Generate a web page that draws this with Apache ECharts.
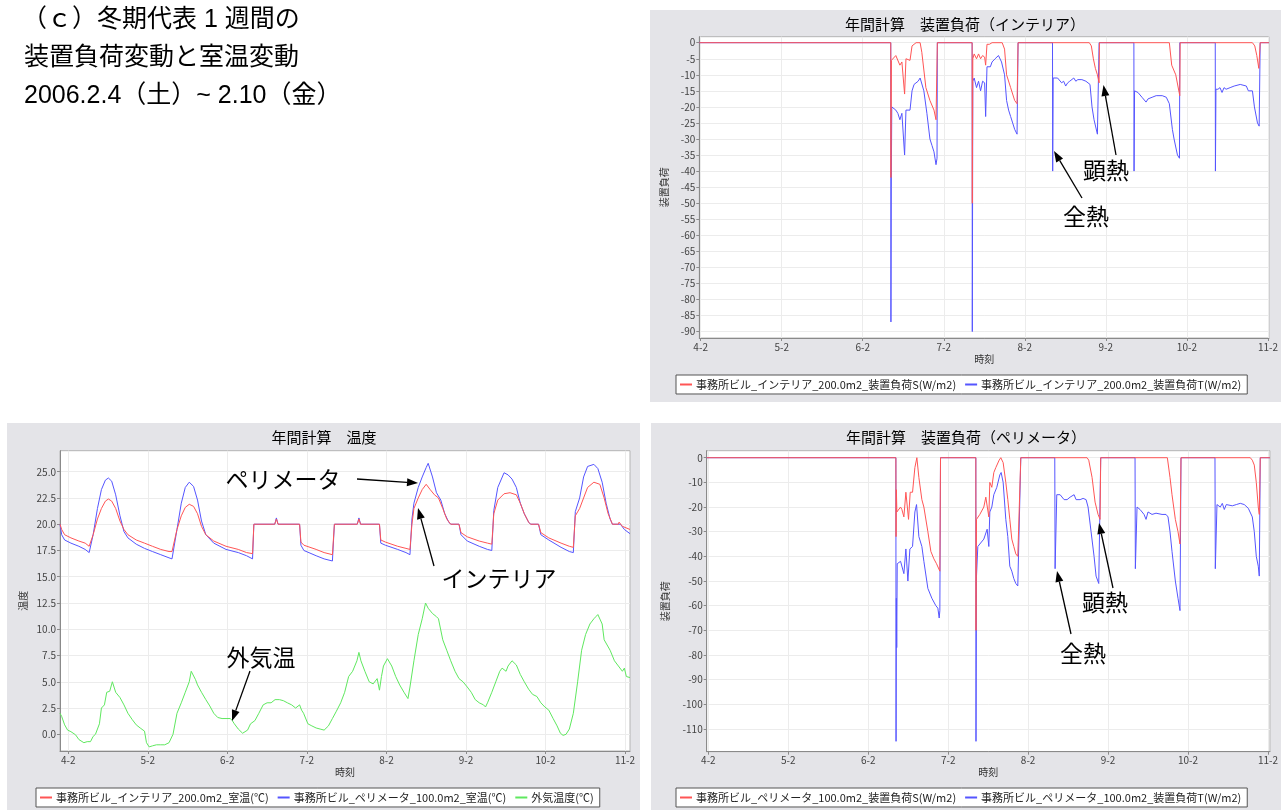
<!DOCTYPE html>
<html>
<head>
<meta charset="utf-8">
<title>冬期代表1週間 装置負荷変動と室温変動</title>
<script src="https://cdn.jsdelivr.net/npm/echarts@6/dist/echarts.min.js"></script>
<style>
  html, body { margin: 0; padding: 0; background: #ffffff; }
  #main { width: 1281px; height: 810px; }
</style>
</head>
<body>
<div id="main"></div>
<script>
// ---------- axis ticks (hours from 2006-02-04 00:00) ----------
const dayTickValues = [0, 24, 48, 72, 96, 120, 144, 168];
const dayTickLabels = ['4-2', '5-2', '6-2', '7-2', '8-2', '9-2', '10-2', '11-2'];
const interiorLoadTicks = [0, -5, -10, -15, -20, -25, -30, -35, -40, -45, -50, -55, -60, -65, -70, -75, -80, -85, -90];
const perimeterLoadTicks = [0, -10, -20, -30, -40, -50, -60, -70, -80, -90, -100, -110];
const temperatureTicks = [0, 2.5, 5, 7.5, 10, 12.5, 15, 17.5, 20, 22.5, 25];

// ---------- series names ----------
const nameInteriorS = '事務所ビル_インテリア_200.0m2_装置負荷S(W/m2)';
const nameInteriorT = '事務所ビル_インテリア_200.0m2_装置負荷T(W/m2)';
const namePerimeterS = '事務所ビル_ペリメータ_100.0m2_装置負荷S(W/m2)';
const namePerimeterT = '事務所ビル_ペリメータ_100.0m2_装置負荷T(W/m2)';
const nameInteriorTemp = '事務所ビル_インテリア_200.0m2_室温(℃)';
const namePerimeterTemp = '事務所ビル_ペリメータ_100.0m2_室温(℃)';
const nameOutdoorTemp = '外気温度(℃)';

// ---------- interior zone load [hour, W/m2] ----------
const interiorLoadS = [
  [-0.4, 0], [56.3, 0], [56.35, -42], [56.5, -5.5], [57.8, -4], [59, -7], [59.6, -6], [60.4, -16], [60.8, -5],
  [62, -5.5], [62.6, -1], [63.8, 0], [65, 0], [65.5, -3], [66.7, -14], [67.9, -18], [69.1, -21], [69.7, -24],
  [70.0, -24], [70.1, 0],
  [80.4, 0], [80.45, -50], [80.6, -5], [81, -3.5], [81.7, -5], [82.3, -3.5], [82.9, -5], [83.5, -4], [84.1, -4.5],
  [84.4, -7], [84.8, -0.5], [85.5, -0.5], [86.3, 0], [89.3, 0], [90, -2], [90.6, -10], [91.8, -14], [93, -18],
  [93.7, -19], [93.9, -19], [94, 0],
  [115.1, 0], [115.7, -1], [116.3, -5], [116.9, -8], [117.5, -10], [118, -12.5], [118.1, 0],
  [138.8, 0], [139.5, -7], [140.7, -10], [141.7, -15.5], [141.9, -16.5], [142, 0],
  [163.4, 0], [164.1, -1], [164.7, -4], [165.3, -8], [165.6, -8], [165.7, 0], [168.3, 0]
];
const interiorLoadT = [
  [-0.4, 0], [56.3, 0], [56.35, -87], [56.45, -45], [56.6, -20], [57.8, -21], [58.4, -22], [59, -24], [59.6, -22],
  [60.4, -35], [60.8, -21], [62, -21], [62.6, -15], [63.2, -13], [64.4, -12], [65, -11], [65.5, -11.5], [66.1, -15],
  [67, -22], [67.9, -30], [68.5, -32], [69.1, -34], [69.7, -38], [70, -36], [70.1, 0],
  [80.4, 0], [80.45, -90], [80.6, -12], [81, -11], [81.7, -14], [82.3, -12], [82.9, -15], [83.5, -12], [84.1, -12.5],
  [84.4, -23], [84.8, -7.5], [85.8, -7.5], [86.3, -6], [87.2, -5], [88.2, -4], [89.1, -6], [90, -10], [90.6, -18],
  [91.2, -21], [91.8, -23], [92.4, -25], [93, -27], [93.7, -28.5], [93.9, -28.5], [94, 0],
  [104.2, 0], [104.25, -40], [104.4, -11], [105.7, -11], [106.9, -12.5], [107.5, -12], [108.1, -13.5], [108.7, -12.5],
  [109.3, -12], [110.5, -11], [111.1, -12], [111.7, -11.5], [112.9, -11.5], [114.1, -12], [115.3, -13], [115.9, -20],
  [116.5, -24], [117.5, -28.5], [117.9, -28.5], [118, 0],
  [128.3, 0], [128.35, -40], [128.5, -15], [129.5, -15.5], [130.7, -17], [131.9, -18.5], [132.5, -17.5], [133.7, -17],
  [134.9, -16.5], [136.7, -16.5], [137.9, -17], [138.8, -19], [139.7, -27], [140.2, -30], [141.2, -35], [141.8, -36],
  [141.9, 0],
  [152.4, 0], [152.45, -40], [152.6, -14.5], [153.2, -14.5], [153.8, -14], [154.4, -15.5], [155, -14], [155.6, -14.5],
  [156.8, -14], [158, -13.5], [159.8, -13], [161.6, -13.5], [162.2, -15], [163.4, -15], [164, -20], [164.9, -25],
  [165.4, -26], [165.6, -26], [165.7, 0], [168.3, 0]
];

// ---------- perimeter zone load [hour, W/m2] ----------
const perimeterLoadS = [
  [-0.5, 0], [56.3, 0], [56.35, -32], [56.45, -13], [56.6, -22], [57.7, -20], [58.1, -21], [58.7, -24], [59.3, -14],
  [60.1, -25], [60.6, -14], [61.3, -14], [62.0, -4], [62.6, 0], [63.2, -8], [64.1, -17], [64.7, -20], [65.9, -30],
  [66.8, -38], [67.7, -41], [68.5, -43], [69.5, -46], [69.7, 0],
  [80.3, 0], [80.35, -70], [80.5, -25], [81.5, -23], [82.7, -20], [83.3, -16], [84.2, -24], [84.5, -10], [85.1, -12],
  [85.7, -6], [86.3, -4], [87.3, -1], [87.8, 0], [88.5, -2], [89.3, -10], [89.9, -17], [90.5, -25], [91.1, -33],
  [91.7, -36], [92.3, -39], [92.9, -40], [93.5, -40], [93.8, 0],
  [113.7, 0], [114.2, -1], [115.2, -8], [116.1, -18], [117.0, -23], [117.6, -25], [117.8, 0],
  [137.8, 0], [138.6, -8], [139.2, -15], [140.2, -25], [141.0, -30], [141.6, -35], [141.9, 0],
  [162.7, 0], [163.3, -1], [163.9, -3], [164.5, -10], [165.1, -20], [165.4, -23], [165.7, 0], [168.6, 0]
];
const perimeterLoadT = [
  [-0.5, 0], [56.3, 0], [56.35, -115], [56.45, -57], [56.55, -77], [56.7, -43], [56.9, -43], [57.7, -42], [58.7, -47],
  [59.3, -37], [59.9, -50], [60.5, -37], [61.3, -36], [62.0, -22], [62.5, -19], [63.2, -32], [64.1, -36], [64.7, -42],
  [65.9, -53], [67.1, -57], [68.3, -60], [68.9, -61], [69.3, -65], [69.5, -62], [69.7, 0],
  [80.3, 0], [80.35, -115], [80.5, -48], [80.9, -36], [81.5, -35], [82.7, -33], [83.7, -29], [84.2, -36], [84.5, -22],
  [85.1, -20], [85.7, -15], [86.6, -12], [87.5, -7], [87.9, -6], [88.5, -10], [89.3, -25], [89.9, -32], [90.5, -44],
  [91.1, -46], [91.7, -49], [92.3, -51], [92.9, -52], [93.5, -52], [93.8, 0],
  [104.0, 0], [104.1, -45], [104.6, -15], [105.6, -15], [106.8, -17], [107.7, -17], [108.6, -16], [109.8, -15],
  [110.4, -17], [111.6, -17], [112.5, -16.5], [113.4, -17], [114.0, -20], [114.9, -30], [115.8, -40], [116.4, -48],
  [117.2, -51], [117.8, 0],
  [128.1, 0], [128.2, -45], [128.7, -20], [129.6, -21], [130.8, -23], [131.4, -25], [132.0, -22], [133.2, -23],
  [134.4, -22.5], [136.2, -23], [137.4, -23], [138.0, -24], [138.6, -30], [139.2, -38], [140.2, -50], [141.0, -57],
  [141.6, -62], [141.9, 0],
  [152.1, 0], [152.2, -45], [152.7, -19], [153.7, -20], [154.3, -18.5], [154.9, -21], [155.5, -19], [156.1, -18.5],
  [157.3, -19.5], [158.5, -19], [159.7, -18.5], [160.9, -19], [162.1, -20.5], [162.7, -21], [163.3, -24], [163.9, -30],
  [164.5, -40], [165.1, -44], [165.4, -48], [165.7, 0], [168.6, 0]
];

// ---------- room and outdoor temperature [hour, ℃] ----------
const interiorTemp = [
  [-2.5, 20.0], [-2.0, 19.5], [-1.1, 19.0], [0.8, 18.7], [3.2, 18.4], [5.1, 18.2], [6.3, 17.9], [7.5, 19.0],
  [8.8, 20.5], [10.0, 21.5], [11.2, 22.2], [12.1, 22.4], [13.1, 22.2], [14.3, 21.5], [15.6, 20.3], [16.8, 19.5],
  [18.0, 19.0], [20.5, 18.5], [23.0, 18.2], [25.4, 17.9], [27.9, 17.6], [30.4, 17.4], [31.3, 17.4], [32.8, 19.5],
  [34.1, 20.8], [35.3, 21.6], [36.5, 21.9], [37.8, 21.7], [39.0, 21.0], [40.2, 19.8], [41.5, 19.0], [43.9, 18.4],
  [47.6, 17.9], [51.3, 17.6], [53.8, 17.3], [55.6, 17.2], [56.0, 20.0], [62.3, 20.0], [62.8, 20.5], [63.3, 20.0],
  [69.8, 20.0], [70.2, 18.3], [71.1, 18.0], [74.8, 17.6], [77.2, 17.3], [79.7, 17.1], [80.3, 20.0], [87.2, 20.0],
  [87.7, 20.5], [88.2, 20.0], [93.9, 20.0], [94.3, 18.5], [95.7, 18.3], [99.4, 17.9], [101.9, 17.7], [103.1, 17.6],
  [103.7, 20.0], [104.3, 21.5], [105.6, 22.5], [106.8, 23.3], [108.0, 23.8], [108.6, 23.8], [109.2, 23.3],
  [110.5, 22.8], [111.7, 22.5], [113.0, 21.5], [114.2, 20.5], [115.4, 20.0], [117.9, 20.0], [118.5, 19.2],
  [120.4, 18.8], [124.0, 18.4], [126.5, 18.2], [127.8, 18.1], [128.4, 21.0], [129.6, 22.3], [131.5, 22.9],
  [133.3, 23.0], [135.2, 22.8], [136.4, 22.0], [137.6, 21.0], [138.9, 20.2], [139.5, 20.0], [141.9, 20.0],
  [142.6, 19.2], [145.0, 18.7], [148.7, 18.2], [151.2, 17.9], [152.4, 17.8], [153.0, 20.8], [154.3, 21.5],
  [155.5, 22.5], [156.7, 23.5], [158.6, 24.0], [160.4, 23.8], [161.7, 22.5], [162.9, 21.0], [164.2, 20.0],
  [166.0, 20.0], [166.2, 20.2], [167.2, 19.8], [169.5, 19.5]
];
const perimeterTemp = [
  [-2.5, 20.0], [-2.0, 19.0], [-1.1, 18.5], [0.8, 18.2], [3.2, 17.9], [5.1, 17.6], [6.3, 17.3], [7.5, 19.0],
  [8.8, 21.5], [10.0, 23.3], [11.2, 24.2], [12.1, 24.4], [13.1, 24.1], [14.3, 22.8], [15.6, 20.8], [16.8, 19.3],
  [18.0, 18.7], [20.5, 18.1], [23.0, 17.7], [25.4, 17.4], [27.9, 17.1], [30.4, 16.8], [31.3, 16.7], [32.8, 19.5],
  [34.1, 22.0], [35.3, 23.5], [36.5, 24.0], [37.8, 23.6], [39.0, 22.3], [40.2, 20.3], [41.5, 19.0], [43.9, 18.2],
  [47.6, 17.6], [51.3, 17.3], [53.8, 17.0], [55.6, 16.7], [56.0, 20.0], [62.3, 20.0], [62.8, 20.6], [63.3, 20.0],
  [69.8, 20.0], [70.2, 18.0], [71.1, 17.5], [74.8, 17.0], [77.2, 16.7], [79.7, 16.5], [80.3, 20.0], [87.2, 20.0],
  [87.7, 20.6], [88.2, 20.0], [93.9, 20.0], [94.3, 18.2], [95.7, 18.0], [99.4, 17.6], [101.9, 17.3], [103.1, 17.1],
  [103.7, 20.5], [104.3, 22.0], [105.6, 23.5], [106.8, 24.5], [108.0, 25.4], [108.6, 25.8], [109.9, 24.5],
  [111.1, 23.0], [112.4, 22.3], [113.6, 21.0], [114.8, 20.2], [115.4, 20.0], [117.9, 20.0], [118.5, 19.0],
  [120.4, 18.4], [124.0, 17.9], [126.5, 17.6], [127.8, 17.5], [128.4, 21.3], [129.6, 23.5], [131.5, 24.9],
  [132.7, 24.7], [133.9, 24.3], [135.2, 23.5], [136.4, 22.0], [137.6, 21.0], [138.9, 20.2], [139.5, 20.0],
  [141.9, 20.0], [142.6, 19.0], [145.0, 18.5], [148.7, 17.8], [151.2, 17.4], [152.4, 17.3], [153.0, 21.2],
  [154.3, 22.5], [155.5, 24.5], [156.7, 25.5], [158.6, 25.7], [159.8, 25.3], [161.1, 24.0], [162.3, 22.0],
  [163.5, 20.5], [164.2, 20.0], [166.6, 20.0], [167.8, 19.5], [169.5, 19.1]
];
const outdoorTemp = [
  [-2.5, 2.0], [-2.0, 1.7], [-1.1, 0.9], [-0.2, 0.4], [0.8, 0.25], [1.4, 0.4], [2.2, -0.05], [3.2, -0.5], [4.7, -0.8],
  [5.7, -0.7], [6.7, -0.7], [7.5, -0.2], [8.2, 0.0], [9.4, 1.0], [10.0, 2.5], [10.9, 2.8], [11.6, 4.0], [12.5, 4.1],
  [13.3, 5.0], [14.3, 4.0], [15.6, 3.5], [16.8, 2.8], [18.0, 2.0], [19.3, 1.4], [20.5, 0.9], [21.7, 0.6], [22.3, 0.7],
  [23.0, 0.3], [23.6, -0.8], [24.4, -1.2], [25.4, -1.1], [26.6, -1.0], [27.9, -1.0], [29.1, -1.0], [30.4, -0.8],
  [31.6, 0.0], [32.8, 2.0], [34.1, 3.0], [35.3, 4.0], [36.5, 5.0], [37.1, 6.0], [38.4, 5.2], [39.0, 4.7], [40.2, 4.0],
  [41.5, 3.3], [42.7, 2.7], [43.9, 2.0], [45.1, 1.6], [46.4, 1.5], [47.6, 1.5], [48.9, 1.5], [49.5, 1.3], [50.1, 1.0],
  [51.3, 0.5], [52.6, 0.1], [53.2, 0.0], [54.1, 0.4], [55.0, 1.0], [56.3, 1.3], [57.5, 2.0], [58.8, 2.8], [60.0, 3.0],
  [61.2, 3.0], [62.4, 3.3], [63.7, 3.3], [64.9, 3.2], [66.1, 3.0], [67.4, 2.8], [68.6, 2.5], [69.8, 2.8], [70.4, 2.3],
  [71.0, 2.0], [72.3, 1.0], [73.5, 0.8], [74.8, 0.6], [76.0, 0.5], [77.2, 0.4], [78.5, 0.8], [79.7, 1.5], [80.9, 2.2],
  [82.2, 3.0], [83.4, 4.0], [84.6, 5.5], [85.8, 6.0], [87.1, 7.0], [87.7, 7.8], [88.3, 7.0], [89.5, 6.0], [90.8, 5.0],
  [92.0, 4.8], [92.6, 4.7], [93.2, 5.3], [93.9, 4.2], [94.5, 5.5], [95.1, 6.5], [96.3, 7.2], [97.6, 6.5], [98.8, 5.5],
  [100.0, 4.7], [101.3, 4.0], [102.5, 3.4], [103.1, 4.5], [104.3, 7.0], [105.6, 9.5], [106.8, 11.0], [107.8, 12.5],
  [108.6, 12.0], [109.9, 11.5], [111.1, 11.2], [111.7, 11.0], [113.0, 9.0], [114.2, 8.0], [115.4, 7.0], [116.7, 6.0],
  [117.9, 5.3], [119.1, 5.0], [120.4, 4.5], [121.6, 4.0], [122.8, 3.3], [124.0, 3.0], [125.3, 2.8], [125.9, 2.6],
  [126.5, 3.0], [127.8, 4.0], [129.0, 5.0], [130.2, 6.0], [130.9, 6.3], [132.1, 6.0], [132.7, 6.5], [133.9, 7.0],
  [135.2, 6.6], [136.4, 5.7], [137.6, 5.0], [138.9, 4.3], [140.1, 3.8], [141.4, 3.6], [142.6, 3.0], [143.8, 2.6],
  [145.0, 2.3], [146.3, 1.5], [147.5, 0.8], [148.5, 0.1], [149.3, -0.1], [150.2, 0.0], [151.2, 0.5], [152.4, 2.0],
  [153.7, 5.0], [154.9, 8.0], [156.1, 9.5], [157.4, 10.5], [158.6, 11.0], [159.2, 11.2], [159.8, 11.4], [161.1, 10.5],
  [161.7, 9.0], [162.3, 9.0], [163.5, 8.0], [164.8, 7.0], [166.0, 6.5], [166.6, 6.5], [167.2, 6.0], [167.8, 6.3],
  [168.4, 5.5], [169.5, 5.4]
];

// ---------- styling ----------
const FONT = '"Noto Sans CJK JP", "Noto Sans", sans-serif';
const HEAD_FONT = '"Liberation Sans", "Noto Sans CJK JP", sans-serif';
const PANEL_BG = '#e4e4e8';
const AXIS_COLOR = '#8a8a8a';
const GRID_COLOR = '#ececec';
const LABEL_COLOR = '#444444';
const RED = '#ff5555';
const BLUE = '#5555ff';
const GREEN = '#5fe85f';

const dayLabel = v => dayTickLabels[dayTickValues.indexOf(Math.round(v))] || '';

function timeAxis(gridIndex, min, max) {
  return {
    type: 'value', gridIndex, min, max,
    name: '時刻', nameLocation: 'middle', nameGap: 16,
    nameTextStyle: { fontSize: 10, color: '#333', fontFamily: FONT },
    axisLine: { show: true, onZero: false, lineStyle: { color: AXIS_COLOR } },
    axisTick: { show: true, length: 3, customValues: dayTickValues, lineStyle: { color: AXIS_COLOR } },
    axisLabel: { customValues: dayTickValues, formatter: dayLabel, fontSize: 10, color: LABEL_COLOR, margin: 4, fontFamily: FONT },
    splitLine: { show: true, lineStyle: { color: GRID_COLOR, width: 1 } }
  };
}
function valueAxis(gridIndex, min, max, ticks, formatter, name, nameGap) {
  return {
    type: 'value', gridIndex, min, max,
    name, nameLocation: 'middle', nameRotate: 90, nameGap,
    nameTextStyle: { fontSize: 10, color: '#333', fontFamily: FONT },
    axisLine: { show: true, onZero: false, lineStyle: { color: AXIS_COLOR } },
    axisTick: { show: true, length: 3, customValues: ticks, lineStyle: { color: AXIS_COLOR } },
    axisLabel: { customValues: ticks, formatter, fontSize: 10, color: LABEL_COLOR, margin: 4, fontFamily: FONT },
    splitLine: { show: true, lineStyle: { color: GRID_COLOR, width: 1 } }
  };
}
function lineSeries(name, data, color, xi, z) {
  return {
    type: 'line', name, data, xAxisIndex: xi, yAxisIndex: xi, z,
    symbol: 'none', showSymbol: false, silent: true,
    lineStyle: { color, width: 1 }, itemStyle: { color }
  };
}
function legendBox(names, left, top) {
  return {
    data: names, left, top, orient: 'horizontal',
    icon: 'rect', itemWidth: 12, itemHeight: 2, itemGap: 9,
    backgroundColor: '#ffffff', borderColor: '#555555', borderWidth: 1, borderRadius: 0,
    padding: [4, 6, 4, 4],
    textStyle: { fontSize: 11, color: '#222', fontFamily: FONT, padding: [0, 0, 0, -1] },
    selectedMode: false
  };
}
function panel(x, y, w, h) {
  return { type: 'rect', shape: { x, y, width: w, height: h }, style: { fill: PANEL_BG }, z: -10, silent: true };
}
function label(text, x, y, size, align, family) {
  return {
    type: 'text', z: 60, silent: true,
    style: {
      text, x, y, fill: '#000', fontSize: size, fontFamily: family || FONT,
      align: align || 'center', verticalAlign: 'middle',
      textAlign: align || 'center', textVerticalAlign: 'middle'
    }
  };
}
function arrow(x1, y1, x2, y2) {
  const a = Math.atan2(y2 - y1, x2 - x1), L = 11, W = 4;
  const bx = x2 - L * Math.cos(a), by = y2 - L * Math.sin(a);
  const nx = -Math.sin(a) * W, ny = Math.cos(a) * W;
  return [
    { type: 'line', z: 60, silent: true, shape: { x1, y1, x2: bx, y2: by }, style: { stroke: '#000', lineWidth: 1.3 } },
    { type: 'polygon', z: 60, silent: true, shape: { points: [[x2, y2], [bx + nx, by + ny], [bx - nx, by - ny]] }, style: { fill: '#000' } }
  ];
}

const chart = echarts.init(document.getElementById('main'), null, { renderer: 'canvas' });

const option = {
  animation: false,
  backgroundColor: '#ffffff',
  textStyle: { fontFamily: FONT },
  grid: [
    { left: 699.3, top: 36.7, width: 571.4, height: 301.3, show: true, backgroundColor: '#fff', borderColor: '#b4b4b4', borderWidth: 1 },
    { left: 60, top: 450.7, width: 570, height: 300.3, show: true, backgroundColor: '#fff', borderColor: '#b4b4b4', borderWidth: 1 },
    { left: 706.7, top: 450.7, width: 565.3, height: 301, show: true, backgroundColor: '#fff', borderColor: '#b4b4b4', borderWidth: 1 }
  ],
  xAxis: [
    timeAxis(0, -0.4, 168.3),
    timeAxis(1, -2.5, 169.5),
    timeAxis(2, -0.5, 168.6)
  ],
  yAxis: [
    valueAxis(0, -92.0, 1.87, interiorLoadTicks, v => String(v), '装置負荷', 30),
    valueAxis(1, -1.59, 27.0, temperatureTicks, v => v.toFixed(1), '温度', 32),
    valueAxis(2, -119.2, 2.84, perimeterLoadTicks, v => String(v), '装置負荷', 36)
  ],
  legend: [
    legendBox([nameInteriorS, nameInteriorT], 676, 375),
    legendBox([nameInteriorTemp, namePerimeterTemp, nameOutdoorTemp], 36, 788),
    legendBox([namePerimeterS, namePerimeterT], 676, 788)
  ],
  series: [
    lineSeries(nameInteriorT, interiorLoadT, BLUE, 0, 2),
    lineSeries(nameInteriorS, interiorLoadS, RED, 0, 3),
    lineSeries(nameOutdoorTemp, outdoorTemp, GREEN, 1, 2),
    lineSeries(namePerimeterTemp, perimeterTemp, BLUE, 1, 3),
    lineSeries(nameInteriorTemp, interiorTemp, RED, 1, 4),
    lineSeries(namePerimeterT, perimeterLoadT, BLUE, 2, 2),
    lineSeries(namePerimeterS, perimeterLoadS, RED, 2, 3)
  ],
  graphic: [
    // panel backgrounds
    panel(650, 10, 631, 392),
    panel(7, 423, 633, 387),
    panel(651, 423, 630, 387),
    // panel titles
    label('年間計算　装置負荷（インテリア）', 965, 24, 15),
    label('年間計算　温度', 324, 437, 15),
    label('年間計算　装置負荷（ペリメータ）', 966, 437, 15),
    // heading
    label('（ｃ）冬期代表 1 週間の', 22, 20, 25, 'left', HEAD_FONT),
    label('装置負荷変動と室温変動', 24, 58, 25, 'left', HEAD_FONT),
    label('2006.2.4（土）~ 2.10（金）', 24, 96, 25, 'left', HEAD_FONT),
    // interior load notes
    label('顕熱', 1106, 170, 23),
    ...arrow(1116, 155, 1103.5, 85),
    label('全熱', 1086, 216, 23),
    ...arrow(1082, 198, 1054, 151),
    // temperature notes
    label('ペリメータ', 283, 479, 23),
    ...arrow(357, 479, 418, 483),
    label('インテリア', 499, 578, 23),
    ...arrow(434, 566, 418, 508),
    label('外気温', 261, 657, 23),
    ...arrow(250, 671, 232, 721),
    // perimeter load notes
    label('顕熱', 1105, 602, 23),
    ...arrow(1113, 588, 1099, 523),
    label('全熱', 1083, 653, 23),
    ...arrow(1071, 634, 1057, 571)
  ]
};

chart.setOption(option);
</script>
</body>
</html>
